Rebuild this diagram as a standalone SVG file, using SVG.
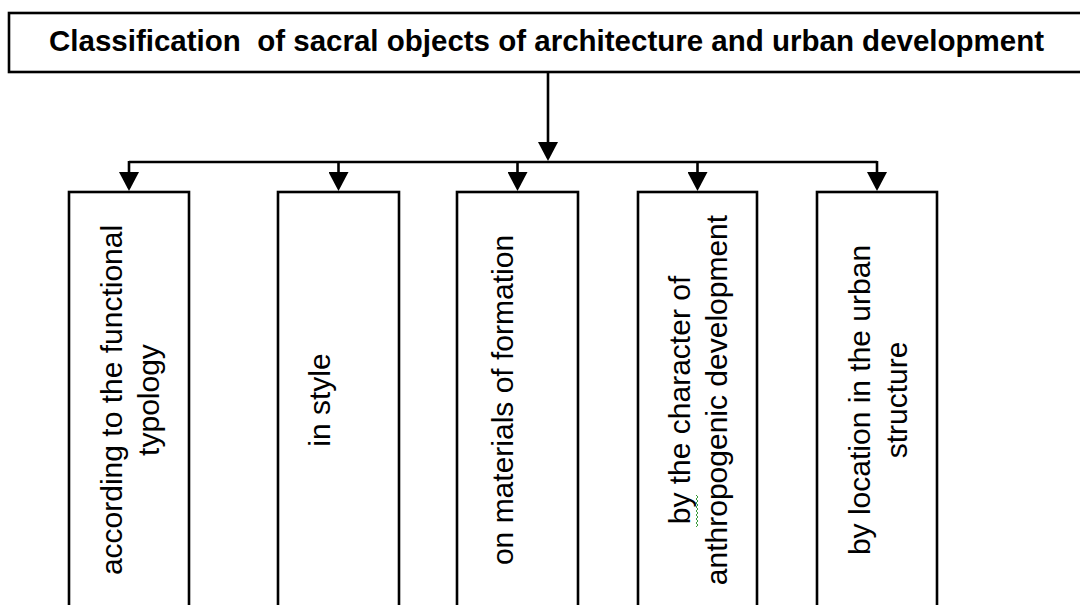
<svg xmlns="http://www.w3.org/2000/svg" width="1080" height="605" viewBox="0 0 1080 605">
  <style>
    .box { fill: #ffffff; stroke: #000000; stroke-width: 2.6; }
    .title { font-family: "Liberation Sans", Arial, sans-serif; font-weight: bold; font-size: 29.5px; fill: #000000; }
    .lbl { font-family: "Liberation Sans", Arial, sans-serif; font-size: 30px; fill: #000000; text-anchor: middle; }
    .conn { fill: none; stroke: #000000; stroke-width: 2.6; }
  </style>
  <defs>
    <marker id="arrow" markerUnits="userSpaceOnUse" viewBox="0 0 19 20" markerWidth="19" markerHeight="20" refX="16" refY="10" orient="auto">
      <path d="M0,0 L19,10 L0,20 z" fill="#000000"/>
    </marker>
  </defs>
  <rect width="1080" height="605" fill="#ffffff"/>

  <g id="title">
    <rect class="box" x="9" y="13" width="1085" height="59"/>
    <text class="title" x="49" y="51" xml:space="preserve">Classification  of sacral objects of architecture and urban development</text>
  </g>

  <g id="connectors">
    <line class="conn" x1="548" y1="72" x2="548" y2="158" marker-end="url(#arrow)"/>
    <line class="conn" x1="129" y1="162" x2="877" y2="162"/>
    <line class="conn" x1="129" y1="161" x2="129" y2="188" marker-end="url(#arrow)"/>
    <line class="conn" x1="338.5" y1="161" x2="338.5" y2="188" marker-end="url(#arrow)"/>
    <line class="conn" x1="517.5" y1="161" x2="517.5" y2="188" marker-end="url(#arrow)"/>
    <line class="conn" x1="697.5" y1="161" x2="697.5" y2="188" marker-end="url(#arrow)"/>
    <line class="conn" x1="877" y1="161" x2="877" y2="188" marker-end="url(#arrow)"/>
  </g>

  <g id="node-functional">
    <rect class="box" x="69" y="192" width="120" height="430"/>
    <g transform="translate(122,400) rotate(-90)">
      <text class="lbl" x="0" y="0">according to the functional</text>
      <text class="lbl" x="0" y="37">typology</text>
    </g>
  </g>

  <g id="node-style">
    <rect class="box" x="278" y="192" width="121" height="430"/>
    <g transform="translate(330,400) rotate(-90)">
      <text class="lbl" x="0" y="0">in style</text>
    </g>
  </g>

  <g id="node-materials">
    <rect class="box" x="457" y="192" width="121" height="430"/>
    <g transform="translate(513,400) rotate(-90)">
      <text class="lbl" x="0" y="0">on materials of formation</text>
    </g>
  </g>

  <g id="node-anthropogenic">
    <rect class="box" x="638" y="192" width="119" height="430"/>
    <g transform="translate(690,400) rotate(-90)">
      <text class="lbl" x="0" y="0">by the character of</text>
      <text class="lbl" x="0" y="37">anthropogenic development</text>
    </g>
    <path d="M696,527 l2,-2 l-2,-2 l2,-2 l-2,-2 l2,-2 l-2,-2 l2,-2 l-2,-2 l2,-2 l-2,-2 l2,-2 l-2,-2 l2,-2 l-2,-2 l2,-2 l-2,-2" fill="none" stroke="#3a9a3a" stroke-width="1"/>
  </g>

  <g id="node-location">
    <rect class="box" x="817" y="192" width="120" height="430"/>
    <g transform="translate(870,400) rotate(-90)">
      <text class="lbl" x="0" y="0">by location in the urban</text>
      <text class="lbl" x="0" y="37">structure</text>
    </g>
  </g>
</svg>
